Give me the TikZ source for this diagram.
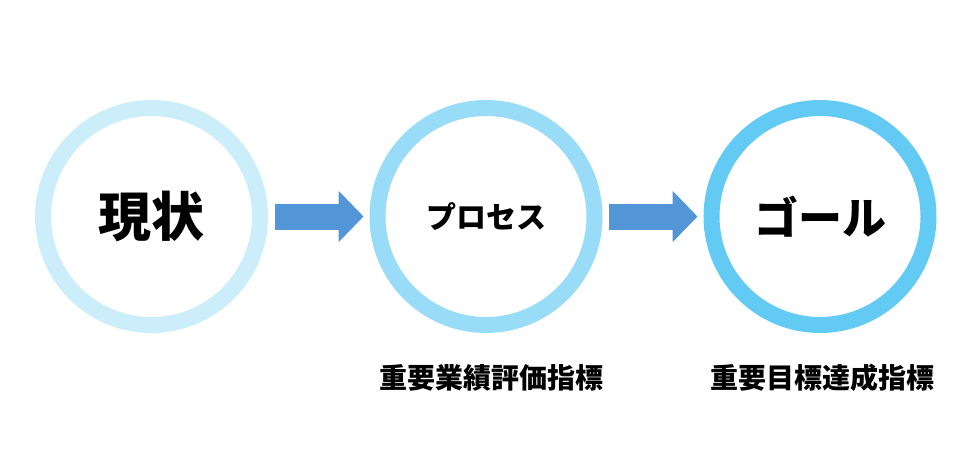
\documentclass[tikz,border=0pt]{standalone}
\usepackage{fontspec}
\newfontfamily\jp{Noto Sans CJK JP}
\usetikzlibrary{arrows.meta}
\definecolor{ringA}{HTML}{CCEEFB}
\definecolor{ringB}{HTML}{99DCF7}
\definecolor{ringC}{HTML}{63CBF3}
\definecolor{flowblue}{HTML}{5296D8}

\begin{document}
\begin{tikzpicture}[x=1pt,y=-1pt,
ring/.style={circle, minimum size=217pt, inner sep=0pt, outer sep=8pt,
  line width=16pt, fill=white, font=\jp\bfseries},
kpi/.style={font=\jp\bfseries\fontsize{28}{28}\selectfont, inner sep=0pt},
flow/.style={line width=26pt, draw=flowblue,
  -{Triangle[length=25pt,width=50pt]}},
]
\useasboundingbox (0,0) rectangle (964,466);
\node[ring, draw=ringA] (now) at (151.5,216.5)
  {\fontsize{53}{53}\selectfont 現状};
\node[ring, draw=ringB] (proc) at (486,216.5)
  {\fontsize{30}{30}\selectfont プロセス};
\node[ring, draw=ringC] (goal) at (820,216.5)
  {\fontsize{44}{44}\selectfont ゴール};
\node[kpi] (kpi) at (491.5,377.5) {重要業績評価指標};
\node[kpi] (kgi) at (822.5,377.5) {重要目標達成指標};
\draw[flow] ([xshift=7pt]now.east) -- ([xshift=-6pt]proc.west);
\draw[flow] ([xshift=6pt]proc.east) -- ([xshift=-6pt]goal.west);
\end{tikzpicture}
\end{document}
